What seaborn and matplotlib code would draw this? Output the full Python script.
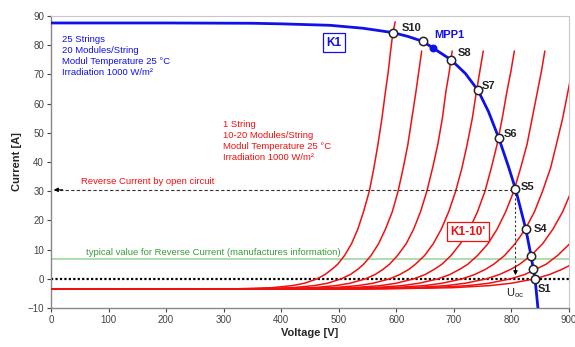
import matplotlib
matplotlib.use("Agg")
import matplotlib.pyplot as plt
import seaborn as sns
import pandas as pd

# K1: 25 strings, 20 modules/string
k1_voltage = [0, 200, 350, 400, 485, 542, 594, 620, 646, 664, 695, 720, 742, 760, 778, 795, 807, 825, 834, 838, 841, 846]
k1_current = [87.6, 87.6, 87.5, 87.3, 86.8, 85.8, 84.3, 83.0, 81.3, 79.0, 75.0, 70.3, 64.5, 57.3, 48.2, 38.3, 30.8, 17.0, 7.9, 3.3, 0.0, -10.0]

# K1-10': reverse characteristic of one string, common current levels
red_current = [-3.5, -3.4, -3.0, -2.3, -1.5, 0, 1.5, 3.3, 5, 8, 12, 17, 23, 30, 38, 46, 55, 64, 71, 78]
red_voltage = {
    "S10": [0, 319, 384, 419, 440, 462, 476, 488, 498, 510, 522, 533, 543, 553, 561, 568, 575, 581, 586, 590],
    "S9": [0, 348, 419, 457, 480, 504, 520, 533, 543, 556, 569, 581, 593, 603, 612, 620, 627, 634, 639, 644],
    "S8": [0, 377, 454, 495, 519, 546, 563, 577, 588, 602, 617, 630, 642, 653, 663, 672, 680, 686, 692, 697],
    "S7": [0, 406, 489, 533, 559, 588, 606, 622, 633, 649, 664, 678, 691, 703, 714, 723, 732, 739, 745, 751],
    "S6": [0, 435, 524, 572, 599, 630, 650, 666, 679, 695, 711, 727, 741, 754, 765, 775, 784, 792, 799, 805],
    "S5": [0, 464, 558, 610, 639, 672, 693, 710, 724, 741, 759, 775, 790, 804, 816, 827, 836, 845, 852, 858],
    "S4": [0, 493, 593, 648, 679, 714, 736, 755, 769, 788, 806, 824, 840, 854, 868, 878, 889, 898, 905, 912],
    "S3": [0, 522, 628, 686, 719, 756, 779, 799, 814, 834, 854, 872, 889, 904, 919, 930, 941, 950, 959, 966],
    "S2": [0, 551, 663, 724, 760, 798, 823, 842, 860, 880, 901, 921, 938, 955, 970, 982, 993, 1003, 1012, 1019],
    "S1": [0, 580, 698, 762, 799, 840, 866, 888, 905, 927, 949, 969, 988, 1005, 1021, 1033, 1046, 1056, 1065, 1073],
}
# S10 curve runs a bit higher than the others
s10_top_v = [594, 598]
s10_top_i = [84.3, 88.0]

# operating points S1..S10 on K1
s_names = ["S1", "S2", "S3", "S4", "S5", "S6", "S7", "S8", "S9", "S10"]
s_voltage = [841, 838, 834, 825, 807, 778, 742, 695, 646, 594]
s_current = [0.0, 3.3, 7.9, 17.0, 30.8, 48.2, 64.5, 75.0, 81.3, 84.3]
mpp_v, mpp_i = 664, 79.0

reverse_open = 30.5
typical_reverse = 6.7

sns.set_style("ticks")
plt.rcParams["font.family"] = ["Liberation Sans", "DejaVu Sans"]

fig, ax = plt.subplots(figsize=(5.75, 3.47), dpi=100)
fig.subplots_adjust(left=0.0887, right=0.9896, top=0.954, bottom=0.112)

red = "#f01010"
blue = "#1010e8"

# reference lines
ax.axhline(typical_reverse, color="#9ed89e", lw=1.2, zorder=1)
ax.axhline(0, color="black", lw=1.6, ls=(0, (1, 1)), zorder=2)

# red reverse curves
for name, volts in red_voltage.items():
    vv = list(volts)
    ii = list(red_current)
    if name == "S10":
        vv = vv + s10_top_v
        ii = ii + s10_top_i
    df = pd.DataFrame({"V": vv, "I": ii})
    sns.lineplot(data=df, x="V", y="I", sort=False, color=red, lw=1.1, ax=ax, zorder=3)

# K1 curve
k1 = pd.DataFrame({"V": k1_voltage, "I": k1_current})
sns.lineplot(data=k1, x="V", y="I", sort=False, color=blue, lw=2.0, ax=ax, zorder=4)

# reverse current by open circuit (dashed, arrows)
ax.plot([5, s_voltage[4]], [reverse_open, reverse_open], color="#333333", lw=0.8, ls=(0, (3, 2)), zorder=3)
ax.annotate("", xy=(0, reverse_open), xytext=(25, reverse_open),
            arrowprops=dict(arrowstyle="-|>", color="black", lw=0.8, mutation_scale=6), zorder=5)
ax.plot([s_voltage[4], s_voltage[4]], [s_current[4], 3], color="#333333", lw=0.8, ls=(0, (2, 2)), zorder=3)
ax.annotate("", xy=(s_voltage[4], 0.3), xytext=(s_voltage[4], 5),
            arrowprops=dict(arrowstyle="-|>", color="black", lw=0.8, mutation_scale=6), zorder=5)

# operating points
pts = pd.DataFrame({"V": s_voltage, "I": s_current})
sns.scatterplot(data=pts, x="V", y="I", s=36, color="white", edgecolor="#222222", linewidth=1.1, ax=ax, zorder=6)
ax.scatter([mpp_v], [mpp_i], s=22, color=blue, zorder=6)

label_pos = {"S10": (609, 86), "S8": (706, 77.3), "S7": (749, 66), "S6": (787, 49.5),
             "S5": (816, 31.5), "S4": (838, 17), "S1": (846, -3.4)}
for name, (x, y) in label_pos.items():
    ax.text(x, y, name, fontsize=8, color="#222222", fontweight="bold", va="center", ha="left", zorder=7)

ax.text(666, 83.6, "MPP1", fontsize=8, color=blue, fontweight="bold", va="center", ha="left", zorder=7)
ax.text(492, 80.8, "K1", fontsize=8.5, color=blue, fontweight="bold", va="center", ha="center", zorder=7,
        bbox=dict(boxstyle="square,pad=0.3", fc="white", ec=blue, lw=0.9))
ax.text(724, 16.1, "K1-10'", fontsize=8.5, color=red, fontweight="bold", va="center", ha="center", zorder=7,
        bbox=dict(boxstyle="square,pad=0.3", fc="white", ec=red, lw=0.9))

ax.text(19, 83.5, "25 Strings\n20 Modules/String\nModul Temperature 25 °C\nIrradiation 1000 W/m²",
        fontsize=6.8, color=blue, va="top", ha="left", linespacing=1.3)
ax.text(299, 54.5, "1 String\n10-20 Modules/String\nModul Temperature 25 °C\nIrradiation 1000 W/m²",
        fontsize=6.8, color=red, va="top", ha="left", linespacing=1.3)
ax.text(52, 33.3, "Reverse Current by open circuit", fontsize=6.8, color=red, va="center", ha="left")
ax.text(61, 9.0, "typical value for Reverse Current (manufactures information)", fontsize=6.8,
        color="#3c9a3c", va="center", ha="left")
ax.text(790, -5.0, r"U$_\mathregular{oc}$", fontsize=8, color="#222222", va="center", ha="left")

ax.set_xlim(0, 900)
ax.set_ylim(-10, 90)
ax.set_xticks(range(0, 901, 100))
ax.set_yticks(range(-10, 91, 10))
ax.set_xlabel("Voltage [V]", fontsize=8, fontweight="bold", labelpad=2)
ax.set_ylabel("Current [A]", fontsize=8, fontweight="bold", labelpad=4)
ax.tick_params(labelsize=7, colors="#444444", length=3, width=0.8, pad=2)

for side in ["left", "bottom"]:
    ax.spines[side].set_color("#888888")
    ax.spines[side].set_linewidth(1.0)
for side in ["top", "right"]:
    ax.spines[side].set_visible(True)
    ax.spines[side].set_color("#c8c8c8")
    ax.spines[side].set_linewidth(0.8)

fig.savefig("out.png", dpi=100)
